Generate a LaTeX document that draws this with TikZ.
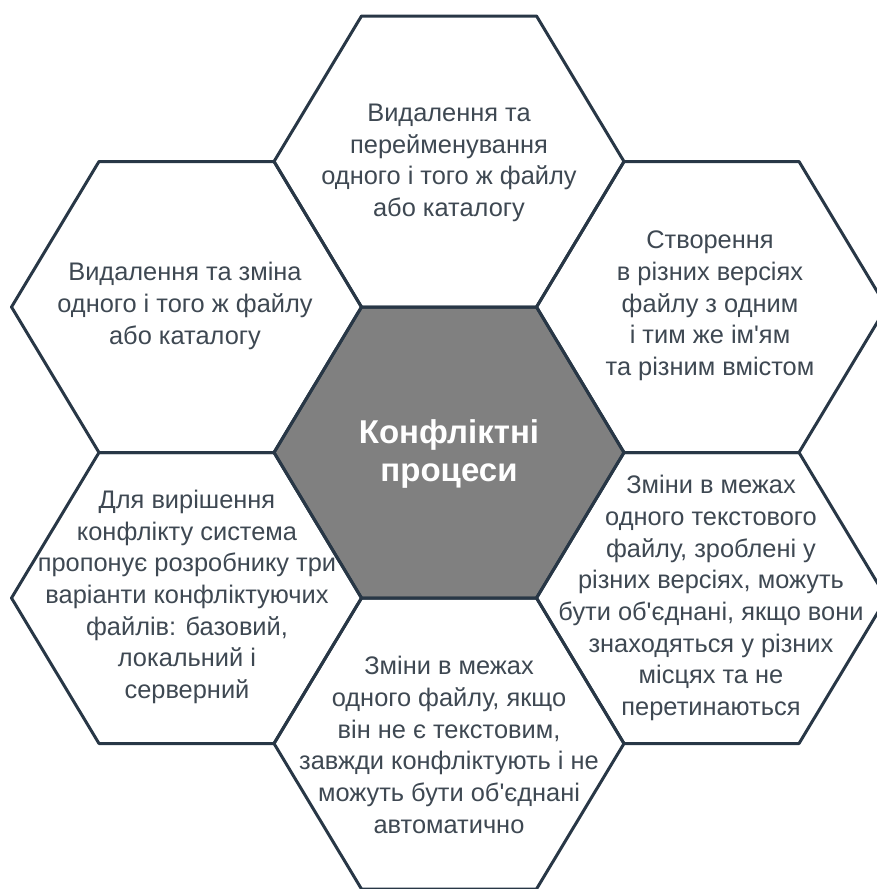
\documentclass[tikz,border=0pt]{standalone}
\usepackage{fontspec}
\setmainfont{Liberation Sans}[Ligatures=TeXOff]
\definecolor{hexline}{RGB}{40,55,70}
\definecolor{hextext}{RGB}{62,72,82}
\definecolor{hexfill}{RGB}{128,128,128}
\begin{document}
\begin{tikzpicture}[x=1pt,y=-1pt,
  hexagon/.style={draw=hexline, line width=3pt, line join=round},
  hextxt/.style={align=center, text=hextext, font=\fontsize{25.4}{31.7}\selectfont, inner sep=0pt},
  hextitle/.style={align=center, text=white, font=\bfseries\fontsize{33}{38}\selectfont, inner sep=0pt}]
\useasboundingbox (0,0) rectangle (877,889);
% hexagon centres
\coordinate (hc) at (449,452.5);
\coordinate (ht) at (449,161.5);
\coordinate (htl) at (186.5,307);
\coordinate (htr) at (711.5,307);
\coordinate (hbl) at (186.5,598);
\coordinate (hbr) at (711.5,598);
\coordinate (hb) at (449,743.5);
% centre fill
\fill[hexfill, shift={(hc)}] (-175,0) -- (-87.5,-145.5) -- (87.5,-145.5) -- (175,0) -- (87.5,145.5) -- (-87.5,145.5) -- cycle;
% outlines
\foreach \h in {hc,ht,htl,htr,hbl,hbr,hb}{
  \draw[hexagon, shift={(\h)}] (-175,0) -- (-87.5,-145.5) -- (87.5,-145.5) -- (175,0) -- (87.5,145.5) -- (-87.5,145.5) -- cycle;
}
% texts
\node[hextitle] (tc) at (449,454) {Конфліктні\\процеси};
\node[hextxt] (tt) at (449,163) {Видалення та\\перейменування\\одного і того ж файлу\\або каталогу};
\node[hextxt] (ttl) at (185,306) {Видалення та зміна\\одного і того ж файлу\\або каталогу};
\node[hextxt] (ttr) at (710,306) {Створення\\в різних версіях\\файлу з одним\\і тим же ім'ям\\та різним вмістом};
\node[hextxt] (tbl) at (187,597) {Для вирішення\\конфлікту система\\пропонує розробнику три\\варіанти конфліктуючих\\файлів: базовий,\\локальний і\\серверний};
\node[hextxt] (tbr) at (711,598) {Зміни в межах\\одного текстового\\файлу, зроблені у\\різних версіях, можуть\\бути об'єднані, якщо вони\\знаходяться у різних\\місцях та не\\перетинаються};
\node[hextxt] (tb) at (449,745) {Зміни в межах\\одного файлу, якщо\\він не є текстовим,\\завжди конфліктують і не\\можуть бути об'єднані\\автоматично};
\end{tikzpicture}
\end{document}
